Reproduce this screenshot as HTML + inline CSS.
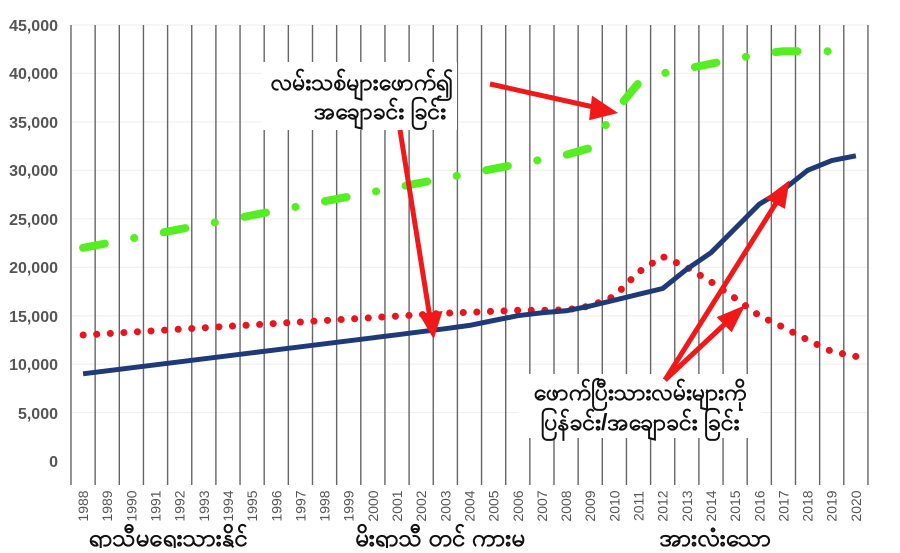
<!DOCTYPE html>
<html><head><meta charset="utf-8"><style>
body{margin:0;background:#fff;}
svg text{font-family:"Liberation Sans",sans-serif;}
</style></head><body>
<svg width="900" height="548" viewBox="0 0 900 548" xmlns="http://www.w3.org/2000/svg">
<rect width="900" height="548" fill="#fff"/>
<g id="hgrid" stroke="#eee" stroke-width="1">
<line x1="71" x2="868" y1="25" y2="25"/><line x1="71" x2="868" y1="73.4" y2="73.4"/><line x1="71" x2="868" y1="121.9" y2="121.9"/><line x1="71" x2="868" y1="170.3" y2="170.3"/><line x1="71" x2="868" y1="218.8" y2="218.8"/><line x1="71" x2="868" y1="267.2" y2="267.2"/><line x1="71" x2="868" y1="315.7" y2="315.7"/><line x1="71" x2="868" y1="364.1" y2="364.1"/><line x1="71" x2="868" y1="412.6" y2="412.6"/>
</g>
<g id="vgrid" stroke="#666" stroke-width="1.4"></g>
<g font-size="16" font-weight="bold" fill="#555" text-anchor="end">
<text x="58" y="31">45,000</text><text x="58" y="79">40,000</text><text x="58" y="128">35,000</text><text x="58" y="176">30,000</text><text x="58" y="225">25,000</text><text x="58" y="273">20,000</text><text x="58" y="322">15,000</text><text x="58" y="370">10,000</text><text x="58" y="419">5,000</text><text x="58" y="467">0</text>
</g>
<g id="xl" font-size="14" fill="#555"></g>
<polyline id="green" fill="none" stroke="#55ee22" stroke-width="8" stroke-linecap="round" stroke-dasharray="22 30 0.1 30"/>
<polyline id="red" fill="none" stroke="#e8141e" stroke-width="7" stroke-linecap="round" stroke-dasharray="0.1 13.5"/>
<polyline id="blue" fill="none" stroke="#1f3a78" stroke-width="5" stroke-linejoin="round"/>
<rect x="262" y="62" width="195" height="68" fill="#fff"/>
<rect x="518" y="374" width="244" height="64" fill="#fff"/>
<g font-size="23" font-weight="bold" fill="#111" text-anchor="middle" font-family="'Liberation Sans','Noto Sans CJK SC',sans-serif">
<text x="362" y="90">လမ်းသစ်များဖောက်၍</text>
<text x="380" y="119">အချောခင်း ခြင်း</text>
<text x="640" y="400">ဖောက်ပြီးသားလမ်းများကို</text>
<text x="640" y="430">ပြန်ခင်း/အချောခင်း ခြင်း</text>
<text x="168" y="546" font-size="24">ရာသီမရွေးသွားနိုင်</text>
<text x="440" y="546" font-size="24">မိုးရာသီ တွင် ကားမ</text>
<text x="715" y="546" font-size="24">အားလုံးသော</text>
</g>
<g stroke="#f01818" stroke-width="5" fill="#f01818">
<line x1="400" y1="130" x2="430" y2="318"/><polygon points="423,316 439,314 433,333"/>
<line x1="490" y1="84" x2="598" y2="108"/><polygon points="594,100 612,112 592,117"/>
<line x1="665" y1="380" x2="778" y2="200"/><polygon points="770,198 786,186 783,205"/>
<line x1="665" y1="380" x2="728" y2="321"/><polygon points="721,318 740,310 731,328"/>
</g>
</svg>
<script>
const ns="http://www.w3.org/2000/svg";
const X=i=>71+24.15*(i+0.5),Y=v=>461-v*0.009689;
const vg=document.getElementById('vgrid'),xl=document.getElementById('xl');
for(let i=0;i<=33;i++){const l=document.createElementNS(ns,'line');const x=71+24.15*i;l.setAttribute('x1',x);l.setAttribute('x2',x);l.setAttribute('y1',25);l.setAttribute('y2',485);vg.appendChild(l);}
for(let i=0;i<33;i++){const t=document.createElementNS(ns,'text');const x=X(i)+5,y=506;t.setAttribute('transform',`translate(${x},${y}) rotate(-90)`);t.setAttribute('text-anchor','middle');t.textContent=1988+i;xl.appendChild(t);}
const blue=[9000,9310,9620,9930,10240,10550,10860,11170,11480,11790,12100,12410,12720,13030,13340,13650,14000,14500,15000,15300,15500,16000,16600,17200,17800,19800,21500,24000,26500,28000,30000,31000,31500];
const red=[13000,13150,13300,13450,13600,13750,13900,14050,14200,14350,14500,14650,14800,14950,15100,15250,15350,15450,15550,15550,15600,16000,17000,19500,21100,20000,18500,16800,15000,13800,12500,11300,10800];
const green=[22000,22480,22960,23440,23920,24400,24880,25360,25840,26320,26800,27280,27760,28240,28720,29200,29680,30160,30640,31120,31600,32300,36000,39000,40000,40500,41000,41500,42000,42300,42300,42300,42300];
const pts=a=>a.map((v,i)=>X(i).toFixed(1)+','+Y(v).toFixed(1)).join(' ');
document.getElementById('blue').setAttribute('points',pts(blue));
document.getElementById('red').setAttribute('points',pts(red));
document.getElementById('green').setAttribute('points',pts(green));
</script>
</body></html>
